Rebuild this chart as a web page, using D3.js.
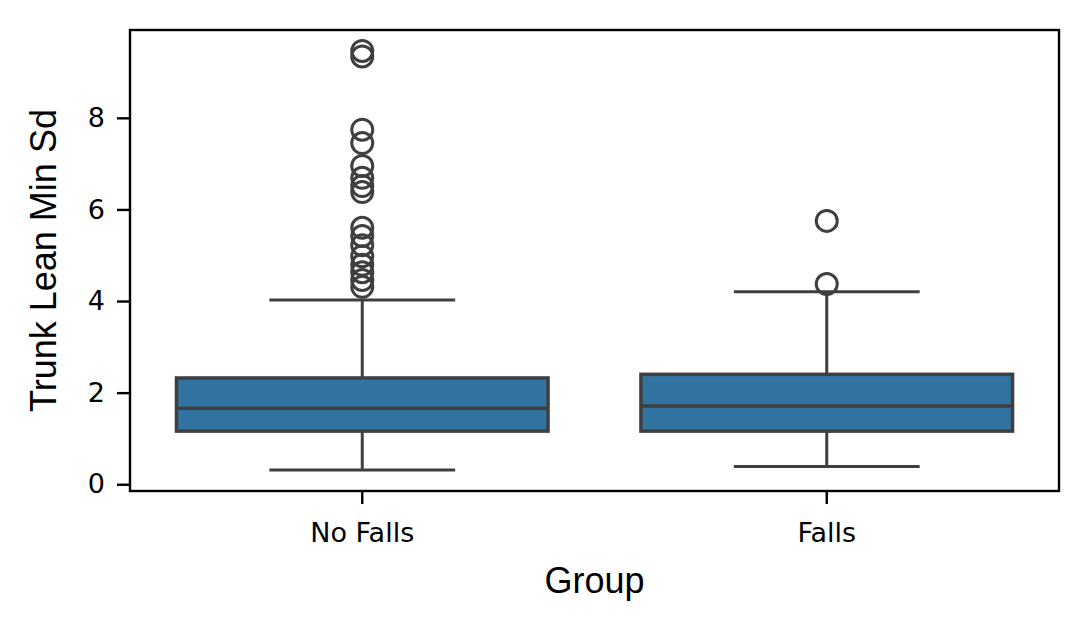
<!DOCTYPE html>
<html>
<head>
<meta charset="utf-8">
<script src="https://cdn.jsdelivr.net/npm/d3@7"></script>
<style>
  html, body { margin: 0; padding: 0; background: #fff; }
  svg { display: block; }
</style>
</head>
<body>
<svg id="chart" width="1088" height="629"></svg>
<script>
// ---- data ----
const categories = ["No Falls", "Falls"];
const q1 = [1.16, 1.16];
const median = [1.66, 1.71];
const q3 = [2.32, 2.40];
const whiskerLow = [0.31, 0.39];
const whiskerHigh = [4.02, 4.20];
const outliersNoFalls = [9.46, 9.34, 7.74, 7.45, 6.95, 6.69, 6.51, 6.38, 5.60, 5.42, 5.22, 4.98, 4.79, 4.63, 4.46, 4.31];
const outliersFalls = [5.75, 4.37];
const outliers = [outliersNoFalls, outliersFalls];
const yTicks = [0, 2, 4, 6, 8];
const xLabel = "Group";
const yLabel = "Trunk Lean Min Sd";

// ---- layout ----
const svg = d3.select("#chart");
const mLeft = 130, mRight = 1059, mTop = 30, mBottom = 491;
const boxColor = "#3274a1", lineColor = "#3f3f3f";

const allVals = whiskerLow.concat(whiskerHigh, ...outliers);
const vmin = d3.min(allVals), vmax = d3.max(allVals);
const pad = (vmax - vmin) * 0.05;

const x = d3.scaleBand().domain(categories).range([mLeft, mRight]).padding(0);
const y = d3.scaleLinear().domain([vmin - pad, vmax + pad]).range([mBottom, mTop]);

const g = svg.append("g");
const bw = x.bandwidth() * 0.8;

categories.forEach((c, i) => {
  const cx = x(c) + x.bandwidth() / 2;
  g.append("line").attr("x1", cx).attr("x2", cx).attr("y1", y(q3[i])).attr("y2", y(whiskerHigh[i]))
    .attr("stroke", lineColor).attr("stroke-width", 3);
  g.append("line").attr("x1", cx).attr("x2", cx).attr("y1", y(q1[i])).attr("y2", y(whiskerLow[i]))
    .attr("stroke", lineColor).attr("stroke-width", 3);
  [whiskerLow[i], whiskerHigh[i]].forEach(v => {
    g.append("line").attr("x1", cx - bw / 4).attr("x2", cx + bw / 4).attr("y1", y(v)).attr("y2", y(v))
      .attr("stroke", lineColor).attr("stroke-width", 3);
  });
  g.append("rect").attr("x", cx - bw / 2).attr("width", bw)
    .attr("y", y(q3[i])).attr("height", y(q1[i]) - y(q3[i]))
    .attr("fill", boxColor).attr("stroke", lineColor).attr("stroke-width", 3.5);
  g.append("line").attr("x1", cx - bw / 2).attr("x2", cx + bw / 2).attr("y1", y(median[i])).attr("y2", y(median[i]))
    .attr("stroke", lineColor).attr("stroke-width", 3.5);
  g.selectAll(null).data(outliers[i]).enter().append("circle")
    .attr("cx", cx).attr("cy", d => y(d)).attr("r", 10.5)
    .attr("fill", "none").attr("stroke", lineColor).attr("stroke-width", 3);
});

svg.append("rect").attr("x", mLeft).attr("y", mTop).attr("width", mRight - mLeft).attr("height", mBottom - mTop)
  .attr("fill", "none").attr("stroke", "#000").attr("stroke-width", 2.4);

const yAxis = d3.axisLeft(y).tickValues(yTicks).tickSize(13).tickPadding(12).tickFormat(d3.format("d"));
const ya = svg.append("g").attr("transform", `translate(${mLeft},0)`).call(yAxis);
const xAxis = d3.axisBottom(x).tickSize(13).tickPadding(19);
const xa = svg.append("g").attr("transform", `translate(0,${mBottom})`).call(xAxis);
[ya, xa].forEach(a => {
  a.select(".domain").remove();
  a.selectAll(".tick line").attr("stroke", "#000").attr("stroke-width", 2.4);
  a.selectAll(".tick text").attr("fill", "#000").style("font-family", "DejaVu Sans").style("font-size", "27px");
});

svg.append("text").attr("x", (mLeft + mRight) / 2).attr("y", 593).attr("text-anchor", "middle")
  .style("font-family", "Liberation Sans, Arial").style("font-size", "36px").attr("fill", "#000").text(xLabel);
svg.append("text").attr("transform", `translate(56,${(mTop + mBottom) / 2}) rotate(-90)`).attr("text-anchor", "middle")
  .style("font-family", "Liberation Sans, Arial").style("font-size", "36px").attr("fill", "#000").text(yLabel);
</script>
</body>
</html>
